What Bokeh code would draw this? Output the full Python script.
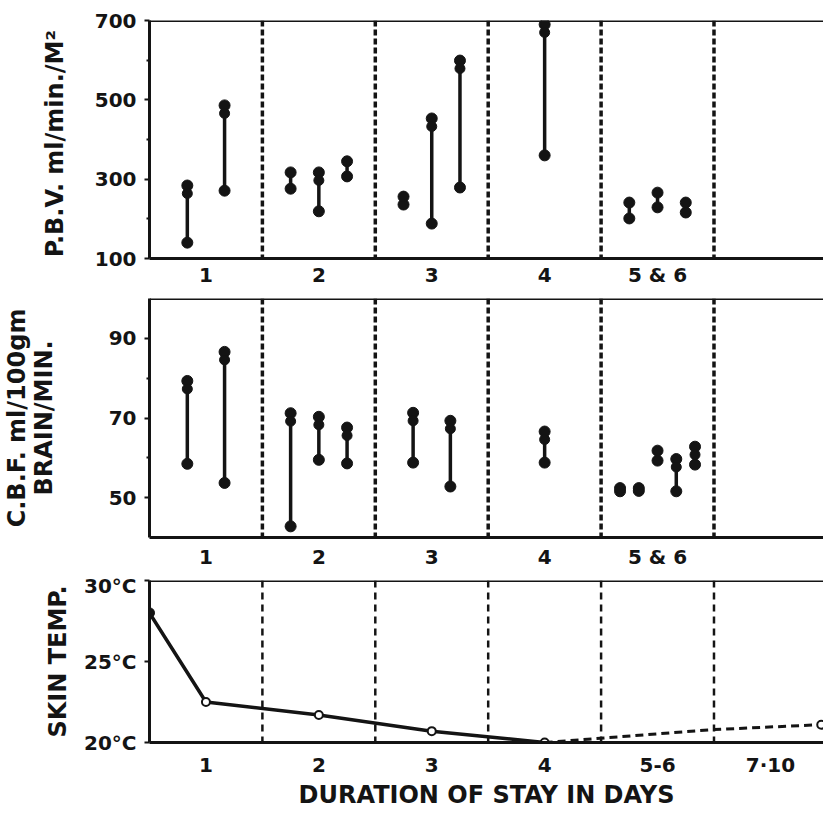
from bokeh.plotting import figure
from bokeh.layouts import column
from bokeh.models import Range1d, FixedTicker, Span
from bokeh.embed import file_html
from bokeh.resources import INLINE

# ---------------- data ----------------
group_labels = ["1", "2", "3", "4", "5 & 6"]
group_pos = [1, 2, 3, 4, 5]
temp_tick_labels = ["1", "2", "3", "4", "5-6", "7·10"]
temp_tick_pos = [1, 2, 3, 4, 5, 6]
separators = [1.5, 2.5, 3.5, 4.5, 5.5]

# P.B.V. (ml/min./M2): per subject, day group, low and high value
pbv_group = [1, 1, 2, 2, 2, 3, 3, 3, 4, 5, 5, 5]
pbv_low = [140, 271, 276, 219, 307, 236, 188, 279, 360, 201, 229, 216]
pbv_high = [284, 486, 317, 317, 345, 256, 453, 599, 690, 241, 266, 241]

# C.B.F. (ml/100gm brain/min.)
cbf_group = [1, 1, 2, 2, 2, 3, 3, 4, 5, 5, 5, 5, 5]
cbf_low = [58.5, 53.7, 42.8, 59.5, 58.6, 58.8, 52.8, 58.8, 51.6, 51.7, 59.3, 51.6, 58.3]
cbf_high = [79.3, 86.6, 71.2, 70.3, 67.6, 71.3, 69.3, 66.6, 52.4, 52.4, 61.8, 59.7, 62.8]

# Skin temperature (deg C)
temp_x_solid = [0.5, 1, 2, 3, 4]
temp_y_solid = [28.0, 22.5, 21.7, 20.7, 20.0]
temp_x_dashed = [4, 5.5, 6.45]
temp_y_dashed = [20.0, 20.8, 21.1]

# ---------------- style ----------------
FONT = "DejaVu Sans"
INK = "#141414"
W = 823
LEFT = 147
X_END = 6.47
step_by_n = {1: 0.0, 2: 0.33, 3: 0.25, 4: 0.2, 5: 0.166}


def base_fig(height, y0, y1, top, bottom):
    p = figure(width=W, height=height, x_range=Range1d(0.5, X_END),
               y_range=Range1d(y0, y1), output_backend="svg",
               toolbar_location=None, min_border_left=LEFT,
               min_border_right=0, min_border_top=top,
               min_border_bottom=bottom, background_fill_color="white",
               border_fill_color="white")
    p.grid.visible = False
    p.outline_line_color = None
    p.add_layout(Span(location=y1, dimension="width", line_color=INK,
                      line_width=3))
    for ax in (p.xaxis[0], p.yaxis[0]):
        ax.axis_line_width = 3
        ax.axis_line_color = INK
        ax.major_label_text_font = FONT
        ax.major_label_text_font_style = "bold"
        ax.major_label_text_font_size = "20px"
        ax.major_label_text_color = INK
        ax.axis_label_text_font = FONT
        ax.axis_label_text_font_style = "bold"
        ax.axis_label_text_font_size = "24px"
        ax.axis_label_text_color = INK
    p.xaxis.major_tick_line_color = None
    p.xaxis.minor_tick_line_color = None
    p.xaxis.major_tick_out = 0
    p.xaxis.major_tick_in = 0
    p.xaxis.minor_tick_out = 0
    p.xaxis.minor_tick_in = 0
    p.yaxis.major_tick_out = 5
    p.yaxis.major_tick_in = 0
    p.yaxis.major_tick_line_width = 2
    p.yaxis.major_tick_line_color = INK
    p.yaxis.minor_tick_out = 3
    p.yaxis.minor_tick_in = 0
    p.yaxis.minor_tick_line_width = 2
    p.yaxis.minor_tick_line_color = INK
    p.yaxis.major_label_standoff = 8
    return p


def add_bars(p, groups, lows, highs, frame_h):
    xs = []
    counts = {g: groups.count(g) for g in set(groups)}
    seen = {}
    for g in groups:
        i = seen.get(g, 0)
        seen[g] = i + 1
        n = counts[g]
        xs.append(g + (i - (n - 1) / 2) * step_by_n[n])
    d = 8 * (p.y_range.end - p.y_range.start) / frame_h
    p.segment(x0=xs, y0=lows, x1=xs, y1=highs, line_width=3.5,
              line_color=INK)
    p.scatter(xs, lows, size=11, color=INK)
    p.scatter(xs, highs, size=11, color=INK)
    ex = [x for x, lo, hi in zip(xs, lows, highs) if hi - lo > 2.2 * d]
    ey = [hi - d for lo, hi in zip(lows, highs) if hi - lo > 2.2 * d]
    p.scatter(ex, ey, size=10, color=INK)


def add_separators(p, width, dash):
    for s in separators:
        p.add_layout(Span(location=s, dimension="height", line_color=INK,
                          line_width=width, line_dash=dash))


# ---------------- panel 1: P.B.V. ----------------
p1 = base_fig(291, 100, 700, 20, 33)
p1.yaxis.ticker = FixedTicker(ticks=[100, 300, 500, 700],
                              minor_ticks=[200, 400, 600])
p1.xaxis.ticker = FixedTicker(ticks=group_pos, minor_ticks=[])
p1.xaxis.major_label_overrides = {g: l for g, l in zip(group_pos, group_labels)}
p1.xaxis.major_label_standoff = 4
p1.yaxis.axis_label = "P.B.V.  ml/min./M²"
p1.yaxis.axis_label_standoff = 23
add_separators(p1, 3.5, "6 3")
add_bars(p1, pbv_group, pbv_low, pbv_high, 238)

# ---------------- panel 2: C.B.F. ----------------
p2 = base_fig(282, 40, 100, 7, 36)
p2.yaxis.ticker = FixedTicker(ticks=[50, 70, 90], minor_ticks=[60, 80])
p2.xaxis.ticker = FixedTicker(ticks=group_pos, minor_ticks=[])
p2.xaxis.major_label_overrides = {g: l for g, l in zip(group_pos, group_labels)}
p2.xaxis.major_label_standoff = 7
p2.yaxis.axis_label = "C.B.F. ml/100gm\nBRAIN/MIN."
p2.yaxis.axis_label_text_line_height = 0.95
p2.yaxis.axis_label_standoff = 48
add_separators(p2, 3.5, "6 3")
add_bars(p2, cbf_group, cbf_low, cbf_high, 239)

# ---------------- panel 3: skin temperature ----------------
p3 = base_fig(243, 20, 30, 7, 74)
p3.yaxis.ticker = FixedTicker(ticks=[20, 25, 30], minor_ticks=[])
p3.yaxis.major_label_overrides = {20: "20°C", 25: "25°C", 30: "30°C"}
p3.xaxis.ticker = FixedTicker(ticks=temp_tick_pos, minor_ticks=[])
p3.xaxis.major_label_overrides = {g: l for g, l in zip(temp_tick_pos, temp_tick_labels)}
p3.xaxis.major_label_standoff = 10
p3.xaxis.axis_label = "DURATION OF STAY IN DAYS"
p3.xaxis.axis_label_text_font_size = "24px"
p3.xaxis.axis_label_standoff = 1
p3.yaxis.axis_label = "SKIN TEMP."
p3.yaxis.axis_label_standoff = 9
add_separators(p3, 2.5, "7 5")
p3.line(temp_x_solid, temp_y_solid, line_width=3.5, line_color=INK)
p3.line(temp_x_dashed, temp_y_dashed, line_width=3, line_color=INK,
        line_dash="8 5")
p3.scatter(temp_x_solid[:1], temp_y_solid[:1], size=10, color=INK)
p3.scatter(temp_x_solid[1:], temp_y_solid[1:], size=8, line_color=INK,
           line_width=2, fill_color="white")
p3.scatter(temp_x_dashed[-1:], temp_y_dashed[-1:], size=8, line_color=INK,
           line_width=2, fill_color="white")

layout = column(p1, p2, p3, spacing=0)
open("out.html", "w").write(file_html(layout, INLINE))
